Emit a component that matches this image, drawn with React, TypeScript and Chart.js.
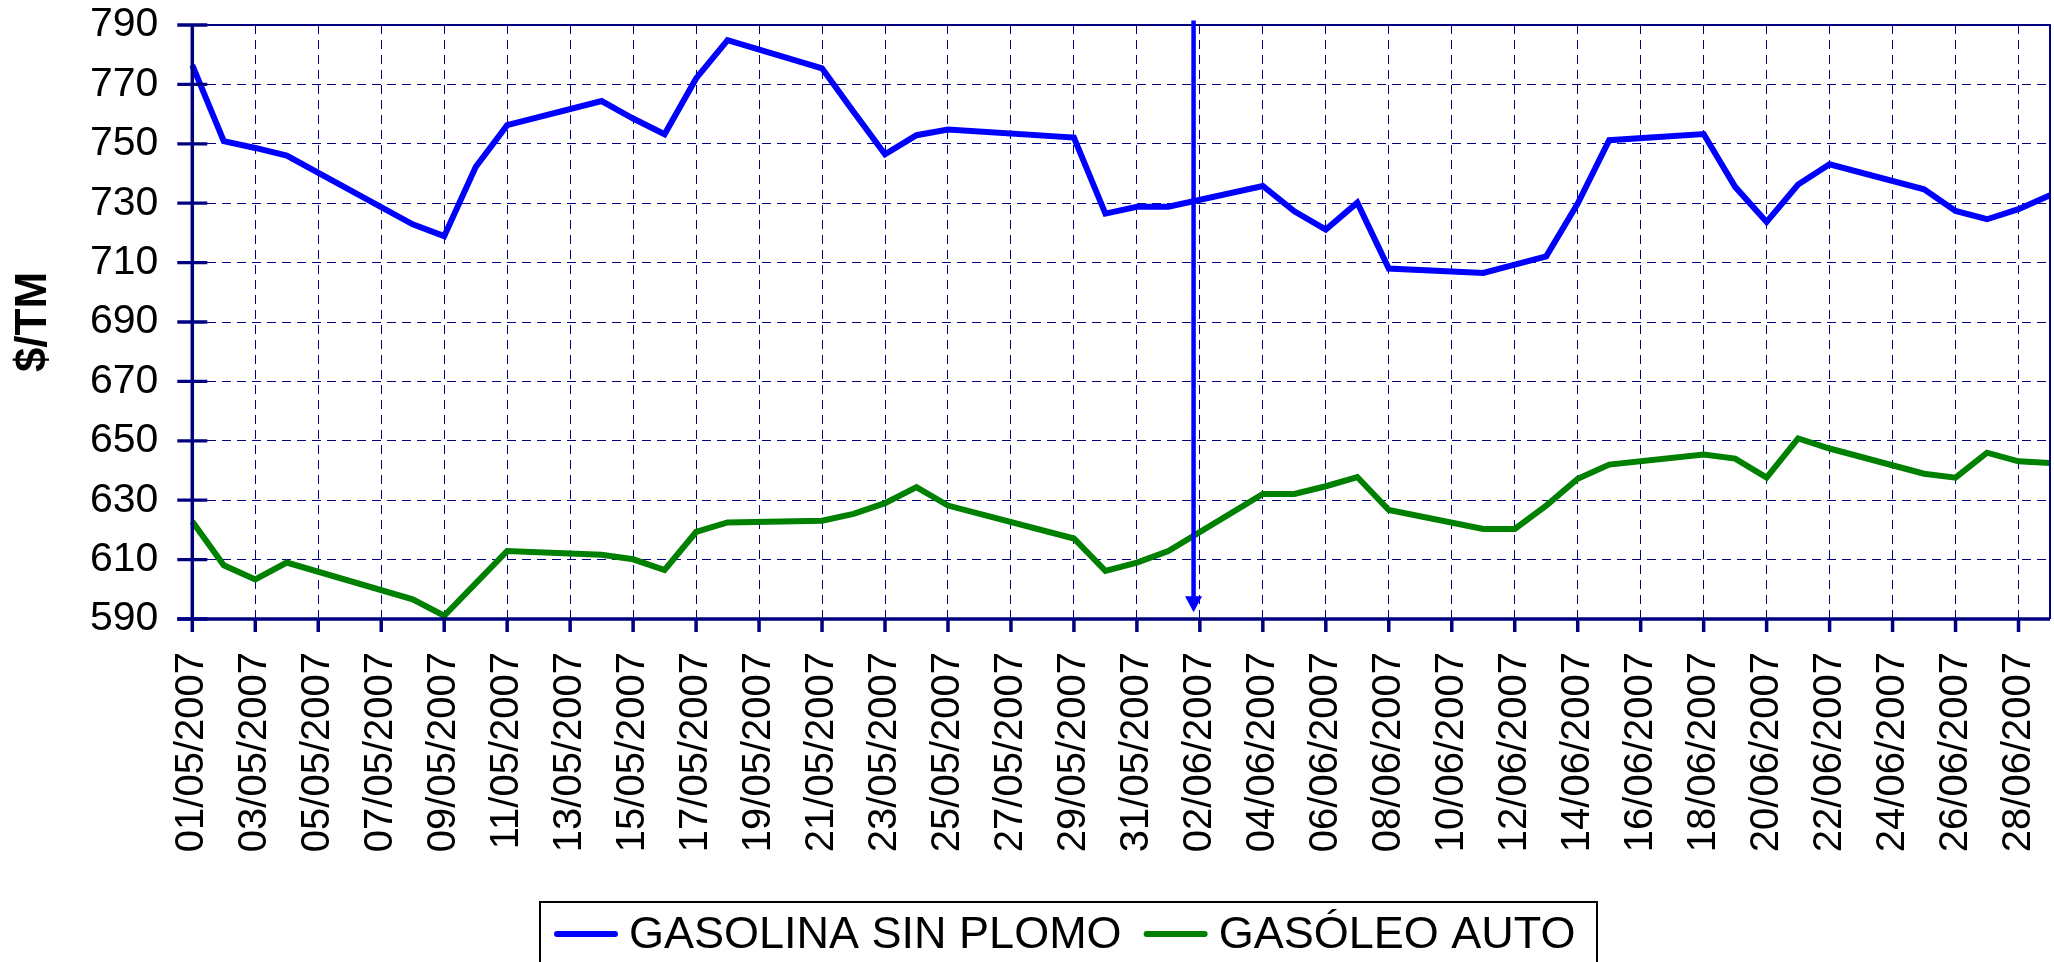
import { useEffect, useRef } from 'react';
import { Chart, registerables } from 'chart.js';

Chart.register(...registerables);

const FONT = '"Liberation Sans", Arial, Helvetica, sans-serif';

const DATES = [
  '01/05/2007', '02/05/2007', '03/05/2007', '04/05/2007', '05/05/2007', '06/05/2007',
  '07/05/2007', '08/05/2007', '09/05/2007', '10/05/2007', '11/05/2007', '12/05/2007',
  '13/05/2007', '14/05/2007', '15/05/2007', '16/05/2007', '17/05/2007', '18/05/2007',
  '19/05/2007', '20/05/2007', '21/05/2007', '22/05/2007', '23/05/2007', '24/05/2007',
  '25/05/2007', '26/05/2007', '27/05/2007', '28/05/2007', '29/05/2007', '30/05/2007',
  '31/05/2007', '01/06/2007', '02/06/2007', '03/06/2007', '04/06/2007', '05/06/2007',
  '06/06/2007', '07/06/2007', '08/06/2007', '09/06/2007', '10/06/2007', '11/06/2007',
  '12/06/2007', '13/06/2007', '14/06/2007', '15/06/2007', '16/06/2007', '17/06/2007',
  '18/06/2007', '19/06/2007', '20/06/2007', '21/06/2007', '22/06/2007', '23/06/2007',
  '24/06/2007', '25/06/2007', '26/06/2007', '27/06/2007', '28/06/2007', '29/06/2007',
];

const GASOLINA = [
  776.5, 750.9, 748.6, 746.0, null, null,
  null, 722.9, 718.9, 742.2, 756.3, null,
  null, 764.4, 758.5, 753.2, 772.0, 784.9,
  null, null, 775.4, 760.8, 746.5, 752.9,
  754.8, null, null, null, 752.1, 726.5,
  728.8, 728.8, null, null, 735.8, 727.3,
  721.1, 730.2, 708.0, null, null, 706.5,
  709.3, 712.1, 729.9, 751.2, null, null,
  753.3, 735.5, 723.7, 736.3, 743.1, null,
  null, 734.7, 727.4, 724.6, 728.0, 732.7,
];

const GASOLEO = [
  622.8, 608.1, 603.3, 609.0, null, null,
  null, 596.6, 591.1, 602.0, 612.9, null,
  null, 611.6, 610.1, 606.5, 619.3, 622.5,
  null, null, 623.1, 625.4, 629.0, 634.4,
  628.2, null, null, null, 617.1, 606.2,
  609.0, 612.9, null, null, 632.1, 632.1,
  634.7, 637.8, 626.7, null, null, 620.3,
  620.3, 628.2, 637.2, 642.0, null, null,
  645.4, 644.0, 637.6, 650.8, 647.4, null,
  null, 638.9, 637.6, 646.0, 643.1, 642.5,
];

const SERIES_NAMES = ['GASOLINA SIN PLOMO', 'GASÓLEO AUTO'];
const SERIES_COLORS = ['#0000ff', '#008000'];
const Y_TITLE = '$/TM';
const Y_MIN = 590;
const Y_MAX = 790;
const Y_STEP = 20;

// vertical arrow annotation (category index position, value range)
const ARROW_INDEX = 31.8;
const ARROW_TOP = 791.5;
const ARROW_BOTTOM = 592.3;

const NAVY = '#000080';

const decorPlugin = {
  id: 'decor',
  afterDraw(chart: any) {
    const { ctx, chartArea: a, scales } = chart;
    const x = scales.x;
    const y = scales.y;
    ctx.save();

    // top & right border
    ctx.strokeStyle = NAVY;
    ctx.lineWidth = 2;
    ctx.beginPath();
    ctx.moveTo(a.left, a.top);
    ctx.lineTo(a.right, a.top);
    ctx.lineTo(a.right, a.bottom);
    ctx.stroke();

    // axes
    ctx.lineWidth = 3.5;
    ctx.beginPath();
    ctx.moveTo(a.left, a.top);
    ctx.lineTo(a.left, a.bottom);
    ctx.moveTo(a.left - 15, a.bottom);
    ctx.lineTo(a.right, a.bottom);
    ctx.stroke();

    // y tick marks (cross)
    ctx.lineWidth = 3.3;
    ctx.beginPath();
    y.ticks.forEach((t: any) => {
      const py = y.getPixelForValue(t.value);
      ctx.moveTo(a.left - 15, py);
      ctx.lineTo(a.left + 15, py);
    });
    ctx.stroke();

    // x tick marks (outside), every second category
    ctx.lineWidth = 3.5;
    ctx.beginPath();
    for (let i = 0; i < DATES.length; i += 2) {
      const px = x.getPixelForValue(i);
      ctx.moveTo(px, a.bottom);
      ctx.lineTo(px, a.bottom + 13);
    }
    ctx.stroke();

    // arrow
    const ax = x.getPixelForValue(ARROW_INDEX);
    const aTop = y.getPixelForValue(ARROW_TOP);
    const aBot = y.getPixelForValue(ARROW_BOTTOM);
    ctx.strokeStyle = '#0000ff';
    ctx.fillStyle = '#0000ff';
    ctx.lineWidth = 4.5;
    ctx.beginPath();
    ctx.moveTo(ax, aTop);
    ctx.lineTo(ax, aBot - 14);
    ctx.stroke();
    ctx.beginPath();
    ctx.moveTo(ax - 8.5, aBot - 16);
    ctx.lineTo(ax + 8.5, aBot - 16);
    ctx.lineTo(ax, aBot);
    ctx.closePath();
    ctx.fill();

    // legend
    const boxLeft = 540;
    const boxTop = 902;
    const boxRight = 1597;
    const boxBottom = 975;
    ctx.fillStyle = '#ffffff';
    ctx.fillRect(boxLeft, boxTop, boxRight - boxLeft, boxBottom - boxTop);
    ctx.strokeStyle = '#000000';
    ctx.lineWidth = 2;
    ctx.strokeRect(boxLeft, boxTop, boxRight - boxLeft, boxBottom - boxTop);

    ctx.font = `45px ${FONT}`;
    ctx.textBaseline = 'middle';
    ctx.textAlign = 'left';
    let cx = boxLeft + 14;
    const cy = 935;
    chart.data.datasets.forEach((ds: any, i: number) => {
      ctx.strokeStyle = ds.borderColor;
      ctx.lineWidth = 6;
      ctx.lineCap = 'round';
      ctx.beginPath();
      ctx.moveTo(cx + 3, cy - 1);
      ctx.lineTo(cx + 61, cy - 1);
      ctx.stroke();
      cx += 75;
      ctx.fillStyle = '#000000';
      ctx.fillText(ds.label, cx, cy + 1);
      cx += ctx.measureText(ds.label).width + (i === 0 ? 22 : 0);
    });

    ctx.restore();
  },
};

export default function App() {
  const ref = useRef<HTMLCanvasElement | null>(null);

  useEffect(() => {
    if (!ref.current) return;
    const chart = new Chart(ref.current, {
      type: 'line',
      data: {
        labels: DATES,
        datasets: [
          {
            label: SERIES_NAMES[0],
            data: GASOLINA,
            borderColor: SERIES_COLORS[0],
            backgroundColor: SERIES_COLORS[0],
            borderWidth: 6,
            pointRadius: 0,
            tension: 0,
            spanGaps: true,
            borderJoinStyle: 'miter',
          },
          {
            label: SERIES_NAMES[1],
            data: GASOLEO,
            borderColor: SERIES_COLORS[1],
            backgroundColor: SERIES_COLORS[1],
            borderWidth: 6,
            pointRadius: 0,
            tension: 0,
            spanGaps: true,
            borderJoinStyle: 'miter',
          },
        ],
      },
      options: {
        responsive: false,
        animation: false,
        devicePixelRatio: 1,
        layout: { padding: { top: 25, right: 4, left: 0, bottom: 0 } },
        plugins: {
          legend: { display: false },
          tooltip: { enabled: false },
        },
        scales: {
          x: {
            type: 'category',
            offset: false,
            grid: {
              color: NAVY,
              lineWidth: (c: any) => (c.index % 2 === 0 ? 1 : 0),
              drawTicks: false,
            },
            border: { display: false, dash: [9, 6] },
            ticks: {
              autoSkip: false,
              maxRotation: 90,
              minRotation: 90,
              padding: 33,
              color: '#000000',
              font: { family: FONT, size: 40 },
              callback: (_v: any, i: number) => (i % 2 === 0 ? DATES[i] : ''),
            },
            afterFit: (s: any) => {
              s.height = 343;
              s.paddingLeft = 0;
              s.paddingRight = 0;
            },
          },
          y: {
            min: Y_MIN,
            max: Y_MAX,
            grid: { color: NAVY, lineWidth: 1, drawTicks: false },
            border: { display: false, dash: [9, 6] },
            ticks: {
              stepSize: Y_STEP,
              padding: 34,
              color: '#000000',
              font: { family: FONT, size: 41 },
            },
            title: {
              display: true,
              text: Y_TITLE,
              color: '#000000',
              font: { family: FONT, size: 44, weight: 'bold' },
              padding: { top: 7, bottom: 0 },
            },
            afterFit: (s: any) => {
              s.width = 192.3;
              s.paddingTop = 0;
              s.paddingBottom = 0;
            },
          },
        },
      } as any,
      plugins: [decorPlugin],
    });
    return () => chart.destroy();
  }, []);

  return (
    <div style={{ position: 'fixed', left: 0, top: 0, width: 2054, height: 962, background: '#ffffff', overflow: 'hidden' }}>
      <canvas ref={ref} width={2054} height={962} style={{ display: 'block', width: 2054, height: 962 }} />
    </div>
  );
}
